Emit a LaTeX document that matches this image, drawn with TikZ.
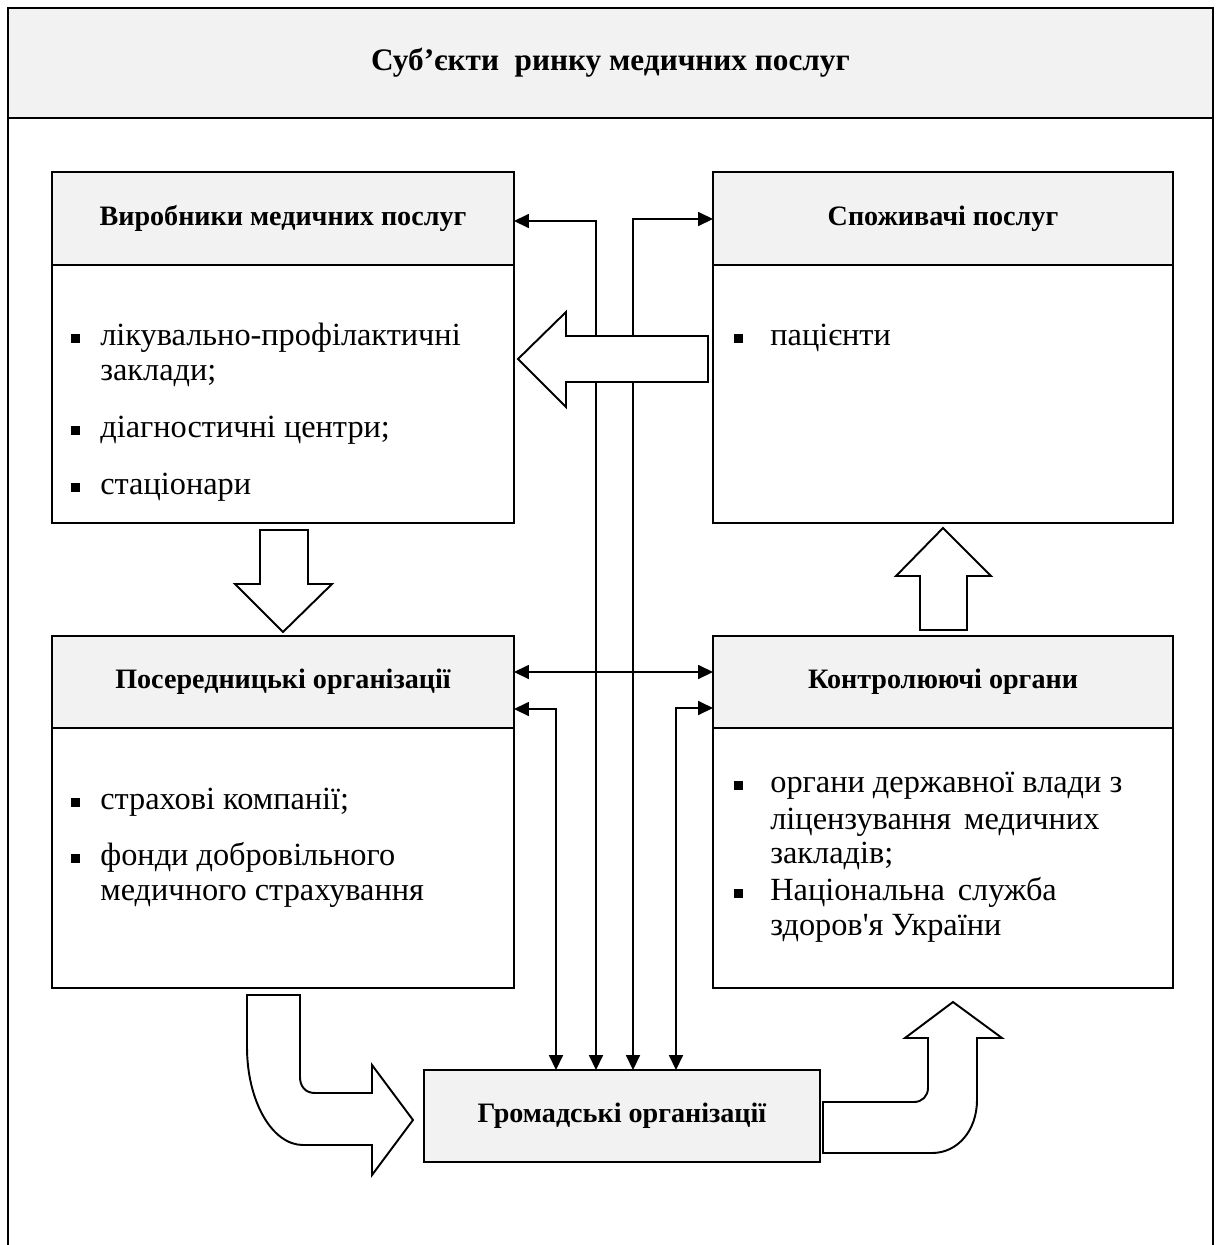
\documentclass[tikz,border=0pt]{standalone}
\usepackage{fontspec}
\setmainfont{Liberation Serif}
\usetikzlibrary{arrows.meta}
\newcommand\pxu{0.02cm}
\definecolor{hdrgray}{HTML}{F2F2F2}

\begin{document}
\begin{tikzpicture}[x=0.02cm, y=-0.02cm,
  frame/.style={line width=1.6pt},
  hdr/.style={draw, line width=1.1pt, fill=hdrgray, inner sep=0pt, outer sep=0pt,
    anchor=north west, align=center, font=\fontsize{16}{19}\selectfont\bfseries},
  bodybox/.style={draw, line width=1.1pt, fill=white, inner sep=0pt, outer sep=0pt,
    anchor=north west},
  item/.style={anchor=base west, inner sep=0pt, font=\fontsize{18.4}{20}\selectfont},
  bul/.style={fill=black, inner sep=0pt, outer sep=0pt, minimum size=9*\pxu},
  link/.style={line width=0.8pt,
    {Triangle[length=8.5pt,width=8pt]}-{Triangle[length=8.5pt,width=8pt]}},
  blockarrow/.style={draw, line width=1.1pt, fill=white, line join=miter}
]
\useasboundingbox (0,0) rectangle (1221,1245);

% outer frame with its title band
\draw[frame] (8,1260) -- (8,8) -- (1213,8) -- (1213,1260);
\node[hdr, line width=1.6pt, minimum width=1205*\pxu, minimum height=110*\pxu,
  font=\fontsize{17.8}{21}\selectfont\bfseries] (title) at (8,8)
  {Суб’єкти\ \ ринку медичних послуг};

% producers
\node[hdr, minimum width=462*\pxu, minimum height=93*\pxu] (v1h) at (52,172)
  {Виробники медичних послуг};
\node[bodybox, minimum width=462*\pxu, minimum height=258*\pxu] (v1) at (52,265) {};
% consumers
\node[hdr, minimum width=460*\pxu, minimum height=93*\pxu] (v2h) at (713,172)
  {Споживачі послуг};
\node[bodybox, minimum width=460*\pxu, minimum height=258*\pxu] (v2) at (713,265) {};
% intermediaries
\node[hdr, minimum width=462*\pxu, minimum height=92*\pxu] (p3h) at (52,636)
  {Посередницькі організації};
\node[bodybox, minimum width=462*\pxu, minimum height=260*\pxu] (p3) at (52,728) {};
% supervisory bodies
\node[hdr, minimum width=460*\pxu, minimum height=92*\pxu] (k4h) at (713,636)
  {Контролюючі органи};
\node[bodybox, minimum width=460*\pxu, minimum height=260*\pxu] (k4) at (713,728) {};
% public organisations
\node[hdr, minimum width=396*\pxu, minimum height=92*\pxu] (g) at (424,1070)
  {Громадські організації};

% list entries
\node[bul] (b1a) at (75,338) {};
\node[item] (t1a) at (100,345) {лікувально-профілактичні};
\node[item] (t1b) at (100,380) {заклади;};
\node[bul] (b1b) at (75,430) {};
\node[item] (t1c) at (100,437) {діагностичні центри;};
\node[bul] (b1c) at (75,487) {};
\node[item] (t1d) at (100,494) {стаціонари};

\node[bul] (b2a) at (738,338) {};
\node[item] (t2a) at (770,345) {пацієнти};

\node[bul] (b3a) at (75,802) {};
\node[item] (t3a) at (100,809) {страхові компанії;};
\node[bul] (b3b) at (75,858) {};
\node[item] (t3b) at (100,865) {фонди добровільного};
\node[item] (t3c) at (100,900) {медичного страхування};

\node[bul] (b4a) at (738,785) {};
\node[item] (t4a) at (770,792) {органи державної влади з};
\node[item] (t4b) at (770,829) {ліцензування\hspace{0.4em}медичних};
\node[item] (t4c) at (770,863) {закладів;};
\node[bul] (b4b) at (738,893) {};
\node[item] (t4d) at (770,900) {Національна\hspace{0.4em}служба};
\node[item] (t4e) at (770,935) {здоров\textquotesingle я України};

% levels and columns of the thin two-way links
\coordinate (yA) at (0,221);
\coordinate (yB) at (0,219);
\coordinate (yM) at (0,672);
\coordinate (yC) at (0,709);
\coordinate (yD) at (0,708);
\coordinate (xA) at (596,0);
\coordinate (xB) at (633,0);
\coordinate (xC) at (556,0);
\coordinate (xD) at (676,0);

\draw[link] (v1h.east |- yA) -| (g.north -| xA);
\draw[link] (v2h.west |- yB) -| (g.north -| xB);
\draw[link] (p3h.east |- yM) -- (k4h.west |- yM);
\draw[link] (p3h.east |- yC) -| (g.north -| xC);
\draw[link] (k4h.west |- yD) -| (g.north -| xD);

% block arrows
% consumers -> producers
\draw[blockarrow] (708,336) -- (566,336) -- (566,312) -- (518,359) -- (566,407)
  -- (566,382) -- (708,382) -- cycle;
% producers -> intermediaries
\draw[blockarrow] (260,530) -- (308,530) -- (308,584) -- (332,584) -- (283,632)
  -- (235,584) -- (260,584) -- cycle;
% supervisory bodies -> consumers
\draw[blockarrow] (920,630) -- (967,630) -- (967,576) -- (991,576) -- (943,528)
  -- (896,576) -- (920,576) -- cycle;
% intermediaries -> public organisations
\draw[blockarrow] (247,995) -- (300,995) -- (300,1077)
  .. controls (300,1086) and (305,1093) .. (315,1093)
  -- (372,1093) -- (372,1065) -- (413,1120) -- (372,1175) -- (372,1145)
  -- (303,1145) .. controls (272,1145) and (247,1101) .. (247,1047) -- cycle;
% public organisations -> supervisory bodies
\draw[blockarrow] (823,1102) -- (914,1102)
  .. controls (922,1102) and (928,1096) .. (928,1088)
  -- (928,1038) -- (905,1038) -- (953,1002) -- (1002,1038) -- (977,1038)
  -- (977,1100) .. controls (977,1130) and (958,1153) .. (932,1153)
  -- (823,1153) -- cycle;
\end{tikzpicture}
\end{document}
